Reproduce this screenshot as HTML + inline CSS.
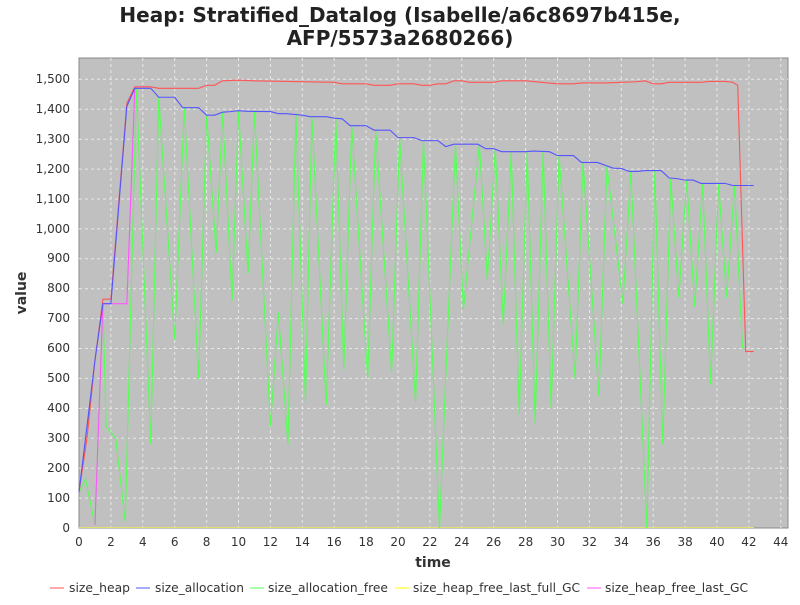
<!DOCTYPE html>
<html><head><meta charset="utf-8"><style>
body{margin:0;background:#fff;width:800px;height:600px;overflow:hidden}
svg{font-family:"DejaVu Sans","Liberation Sans",sans-serif}
</style></head><body>
<svg width="800" height="600" viewBox="0 0 800 600">
<text x="400" y="22" text-anchor="middle" font-size="20" font-weight="bold" fill="#222">Heap: Stratified_Datalog (Isabelle/a6c8697b415e,</text>
<text x="400" y="45" text-anchor="middle" font-size="20" font-weight="bold" fill="#222">AFP/5573a2680266)</text>
<rect x="79" y="58" width="709" height="470" fill="#c0c0c0" stroke="#888"/>
<g stroke="#e8e8e8" stroke-dasharray="3,3" stroke-width="1">
<line x1="79" x2="788" y1="498.1" y2="498.1"/><line x1="79" x2="788" y1="468.2" y2="468.2"/><line x1="79" x2="788" y1="438.3" y2="438.3"/><line x1="79" x2="788" y1="408.4" y2="408.4"/><line x1="79" x2="788" y1="378.4" y2="378.4"/><line x1="79" x2="788" y1="348.5" y2="348.5"/><line x1="79" x2="788" y1="318.6" y2="318.6"/><line x1="79" x2="788" y1="288.7" y2="288.7"/><line x1="79" x2="788" y1="258.8" y2="258.8"/><line x1="79" x2="788" y1="228.9" y2="228.9"/><line x1="79" x2="788" y1="199" y2="199"/><line x1="79" x2="788" y1="169.1" y2="169.1"/><line x1="79" x2="788" y1="139.2" y2="139.2"/><line x1="79" x2="788" y1="109.3" y2="109.3"/><line x1="79" x2="788" y1="79.3" y2="79.3"/>
<line y1="58" y2="528" x1="110.9" x2="110.9"/><line y1="58" y2="528" x1="142.8" x2="142.8"/><line y1="58" y2="528" x1="174.7" x2="174.7"/><line y1="58" y2="528" x1="206.6" x2="206.6"/><line y1="58" y2="528" x1="238.5" x2="238.5"/><line y1="58" y2="528" x1="270.4" x2="270.4"/><line y1="58" y2="528" x1="302.3" x2="302.3"/><line y1="58" y2="528" x1="334.2" x2="334.2"/><line y1="58" y2="528" x1="366.1" x2="366.1"/><line y1="58" y2="528" x1="398" x2="398"/><line y1="58" y2="528" x1="429.9" x2="429.9"/><line y1="58" y2="528" x1="461.8" x2="461.8"/><line y1="58" y2="528" x1="493.7" x2="493.7"/><line y1="58" y2="528" x1="525.6" x2="525.6"/><line y1="58" y2="528" x1="557.5" x2="557.5"/><line y1="58" y2="528" x1="589.4" x2="589.4"/><line y1="58" y2="528" x1="621.3" x2="621.3"/><line y1="58" y2="528" x1="653.2" x2="653.2"/><line y1="58" y2="528" x1="685.1" x2="685.1"/><line y1="58" y2="528" x1="717" x2="717"/><line y1="58" y2="528" x1="748.9" x2="748.9"/><line y1="58" y2="528" x1="780.8" x2="780.8"/>
</g>
<line x1="79" x2="754" y1="527.5" y2="527.5" stroke="#e0e070" stroke-width="1"/>
<g transform="translate(79,528) scale(15.95,-0.29913)" fill="none" stroke-width="1.1">
<polyline vector-effect="non-scaling-stroke" stroke="#55ff55" points="0,120 0.4,165 1,10 1.5,750 1.7,340 2.3,300 2.9,20 3.6,1470 4.5,280 5,1440 6,630 6.6,1405 7.5,500 8,1380 8.6,920 9,1390 9.6,760 10,1395 10.6,850 11,1392 12,340 12.5,720 13.1,280 13.6,1385 14.2,420 14.6,1375 15.5,410 16.1,1370 16.6,530 17.1,1345 18.1,500 18.6,1330 19.6,520 20.1,1305 21.1,420 21.6,1295 22.6,0 23.6,1280 24.1,730 25.1,1283 25.6,830 26.1,1268 26.6,680 27.1,1258 27.6,380 28.1,1258 28.6,350 29.1,1260 29.6,400 30.1,1245 31.1,500 31.6,1222 32.6,440 33.1,1210 34.1,750 34.6,1192 35.6,0 36.1,1195 36.6,280 37.1,1170 37.6,770 38.1,1163 38.6,740 39.1,1152 39.6,480 40.1,1152 40.6,770 41.1,1145 41.6,600"/>
<polyline vector-effect="non-scaling-stroke" stroke="#ff55ff" points="1,10 1.5,750 3,750 3.5,1470"/>
<polyline vector-effect="non-scaling-stroke" stroke="#ff5555" points="0,120 0.5,300 1,560 1.5,765 2,765 3,1420 3.5,1475 4.5,1475 5,1470 7.5,1470 8,1480 8.5,1480 9,1495 10,1497 11,1495 16,1490 16.5,1485 18,1485 18.5,1480 19.5,1480 20,1485 21,1485 21.5,1480 22,1480 22.5,1485 23,1485 23.5,1495 24,1495 24.5,1490 26,1490 26.5,1495 28,1495 29,1490 30,1485 31,1485 31.5,1488 33,1488 34,1490 35,1492 35.5,1495 36,1485 36.5,1485 37,1490 39,1490 39.5,1493 40.5,1493 41,1490 41.3,1480 41.8,590 42.3,590"/>
<polyline vector-effect="non-scaling-stroke" stroke="#5555ff" points="0,120 1,560 1.5,750 2,750 3,1410 3.5,1470 4.5,1470 5,1440 6,1440 6.5,1405 7.5,1405 8,1380 8.5,1380 9,1390 9.5,1392 10,1395 10.5,1393 12,1392 12.5,1385 13,1385 14,1380 14.5,1375 15.5,1375 16,1370 16.5,1368 17,1345 18,1345 18.5,1330 19.5,1330 20,1305 21,1305 21.5,1295 22.5,1295 23,1275 23.5,1283 25,1283 25.5,1268 26,1268 26.5,1258 28,1258 28.5,1260 29.5,1258 30,1245 31,1245 31.5,1222 32.5,1222 33.5,1203 34,1202 34.5,1192 35,1192 35.5,1195 36.5,1195 37,1170 37.5,1168 38,1163 38.5,1163 39,1152 40.5,1152 41,1145 42.3,1145"/>
</g>
<g font-size="12" fill="#333" text-anchor="end">
<text x="70" y="532">0</text><text x="70" y="502">100</text><text x="70" y="472">200</text><text x="70" y="442">300</text><text x="70" y="412">400</text><text x="70" y="382">500</text><text x="70" y="352">600</text><text x="70" y="322">700</text><text x="70" y="292">800</text><text x="70" y="262">900</text><text x="70" y="233">1,000</text><text x="70" y="203">1,100</text><text x="70" y="173">1,200</text><text x="70" y="143">1,300</text><text x="70" y="113">1,400</text><text x="70" y="83">1,500</text>
</g>
<g font-size="12" fill="#333" text-anchor="middle">
<text x="79" y="546">0</text><text x="110.9" y="546">2</text><text x="142.8" y="546">4</text><text x="174.7" y="546">6</text><text x="206.6" y="546">8</text><text x="238.5" y="546">10</text><text x="270.4" y="546">12</text><text x="302.3" y="546">14</text><text x="334.2" y="546">16</text><text x="366.1" y="546">18</text><text x="398" y="546">20</text><text x="429.9" y="546">22</text><text x="461.8" y="546">24</text><text x="493.7" y="546">26</text><text x="525.6" y="546">28</text><text x="557.5" y="546">30</text><text x="589.4" y="546">32</text><text x="621.3" y="546">34</text><text x="653.2" y="546">36</text><text x="685.1" y="546">38</text><text x="717" y="546">40</text><text x="748.9" y="546">42</text><text x="780.8" y="546">44</text>
</g>
<text x="433" y="567" text-anchor="middle" font-size="14" font-weight="bold" fill="#333">time</text>
<text transform="translate(26,293) rotate(-90)" text-anchor="middle" font-size="14" font-weight="bold" fill="#333">value</text>
<g font-size="12" fill="#333">
<line x1="50" x2="64" y1="588" y2="588" stroke="#ff5555"/><text x="69" y="592" textLength="61" lengthAdjust="spacingAndGlyphs">size_heap</text>
<line x1="136" x2="150" y1="588" y2="588" stroke="#5555ff"/><text x="155" y="592" textLength="89" lengthAdjust="spacingAndGlyphs">size_allocation</text>
<line x1="250" x2="264" y1="588" y2="588" stroke="#55ff55"/><text x="268" y="592" textLength="120" lengthAdjust="spacingAndGlyphs">size_allocation_free</text>
<line x1="395" x2="409" y1="588" y2="588" stroke="#ffff00"/><text x="413" y="592" textLength="167" lengthAdjust="spacingAndGlyphs">size_heap_free_last_full_GC</text>
<line x1="587" x2="601" y1="588" y2="588" stroke="#ff55ff"/><text x="605" y="592" textLength="143" lengthAdjust="spacingAndGlyphs">size_heap_free_last_GC</text>
</g>
</svg>
</body></html>
